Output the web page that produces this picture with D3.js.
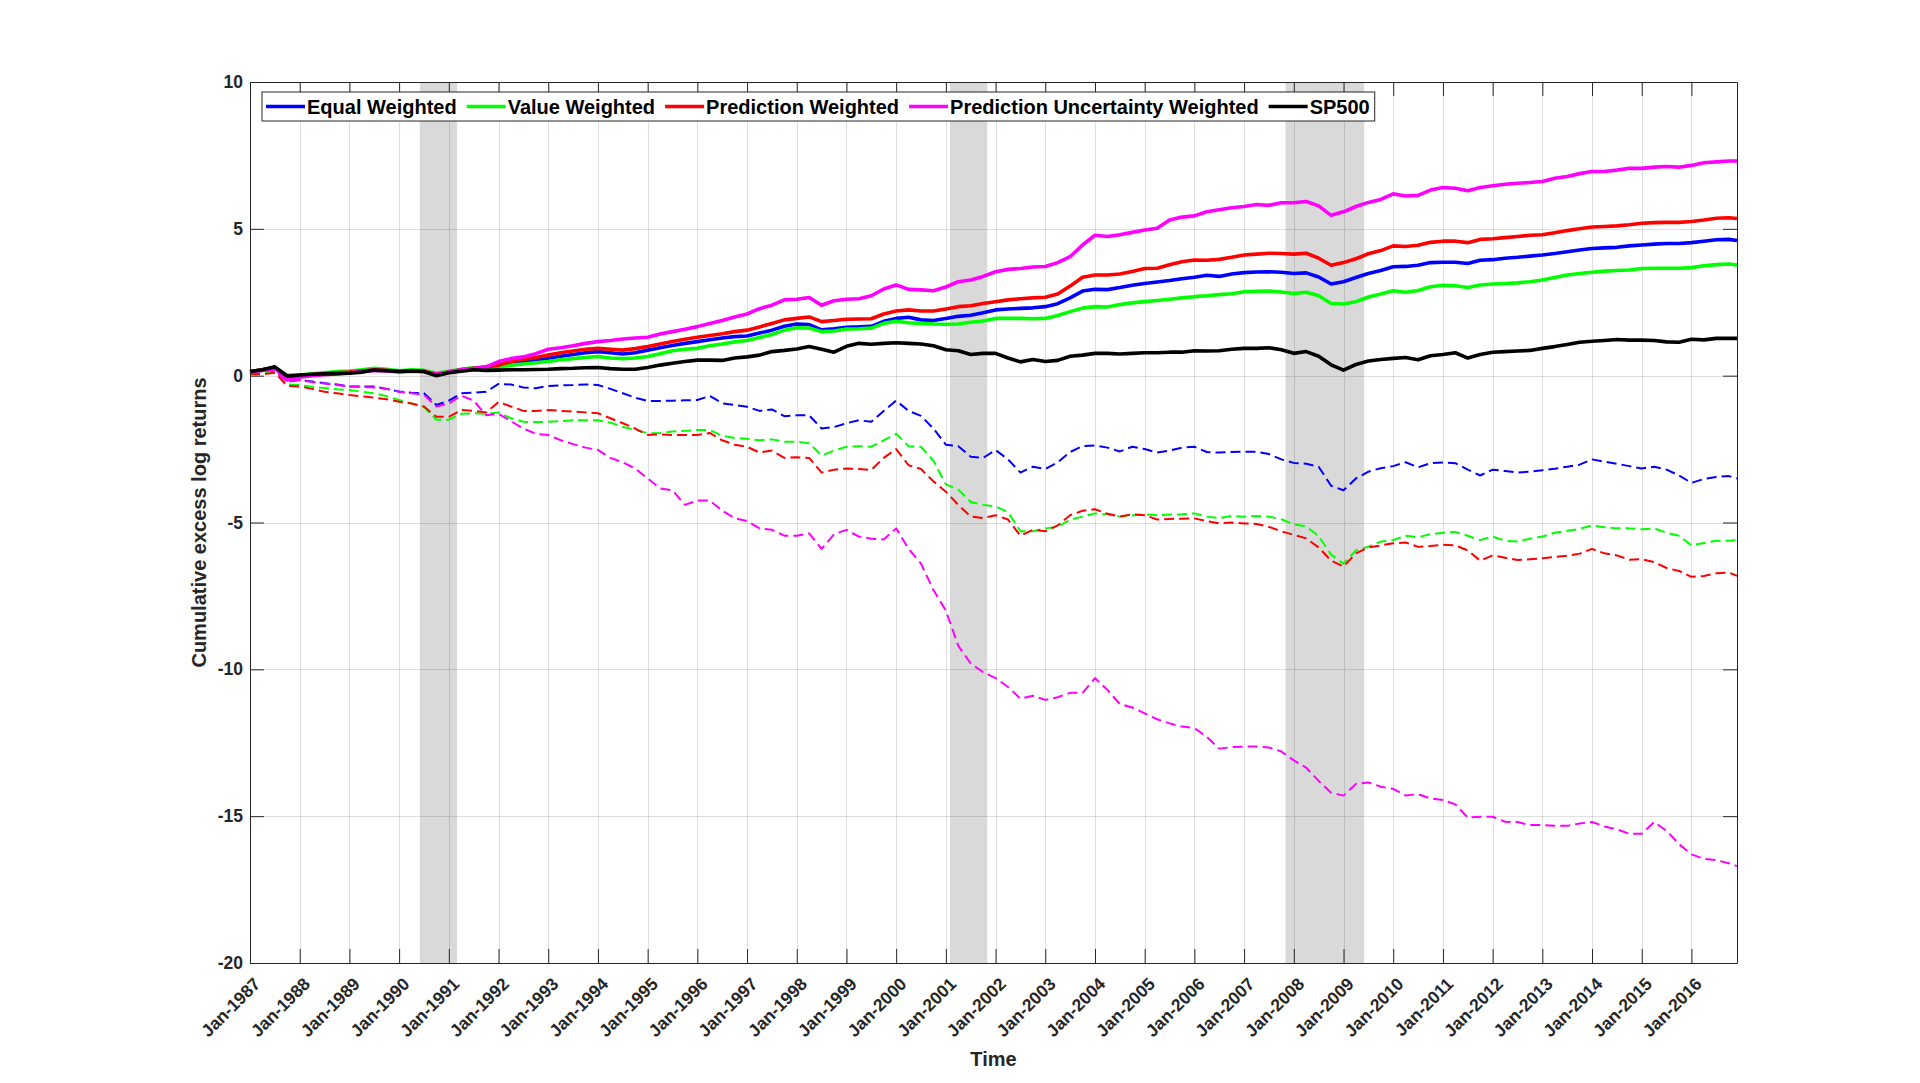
<!DOCTYPE html>
<html>
<head>
<meta charset="utf-8">
<script src="https://cdn.jsdelivr.net/npm/d3@7"></script>
<style>
html,body{margin:0;padding:0;background:#ffffff;}
svg{display:block;font-family:"Liberation Sans",Arial,Helvetica,sans-serif;}
</style>
</head>
<body>
<svg id="chart" width="1920" height="1083"></svg>
<script>
// ---------- DATA ----------
// quarterly observations (Jan, Apr, Jul, Oct) from Jan-1987, last point Dec-2016
const quarterDates = d3.range(0, 120).map(i => 1987 + i / 4).concat([2016 + 11 / 12]);

const xTickYears = d3.range(1987, 2017);
const xTickLabels = xTickYears.map(y => "Jan-" + y);
const yTickValues = [10, 5, 0, -5, -10, -15, -20];
const yTickLabels = ["10", "5", "0", "-5", "-10", "-15", "-20"];

// recession shading [start, end] in decimal years
const recessions = [[1990 + 5/12, 1991 + 2/12], [2001 + 1/12, 2001 + 10/12], [2007 + 10/12, 2009 + 5/12]];

const legendNames = ["Equal Weighted", "Value Weighted", "Prediction Weighted", "Prediction Uncertainty Weighted", "SP500"];
const seriesColors = ["#0000ff", "#00ff00", "#ff0000", "#ff00ff", "#000000"];

// solid lines
const equalWeighted = [
 0.14,0.2,0.28,0.0, 0.0,0.04,0.06,0.1, 0.12,0.16,0.2,0.18, 0.14,0.16,0.15,0.05,
 0.12,0.2,0.25,0.28, 0.3,0.4,0.47,0.54, 0.59,0.66,0.72,0.78, 0.82,0.78,0.74,0.78,
 0.87,0.95,1.03,1.1, 1.16,1.22,1.28,1.33, 1.35,1.45,1.55,1.68, 1.76,1.74,1.56,1.6,
 1.65,1.66,1.68,1.85, 1.95,1.99,1.9,1.88, 1.95,2.02,2.06,2.14, 2.24,2.27,2.29,2.31,
 2.35,2.45,2.65,2.88, 2.94,2.93,3.0,3.08, 3.14,3.19,3.24,3.3, 3.35,3.42,3.38,3.46,
 3.51,3.53,3.54,3.52, 3.48,3.5,3.36,3.12, 3.2,3.34,3.48,3.58, 3.71,3.72,3.76,3.85,
 3.86,3.86,3.82,3.93, 3.95,4.0,4.03,4.07, 4.11,4.16,4.22,4.28, 4.33,4.35,4.37,4.42,
 4.45,4.48,4.5,4.5, 4.53,4.58,4.63,4.64, 4.6];
const valueWeighted = [
 0.14,0.2,0.28,0.0, 0.02,0.06,0.1,0.14, 0.16,0.2,0.25,0.22, 0.17,0.2,0.18,0.08,
 0.15,0.22,0.27,0.28, 0.3,0.36,0.4,0.44, 0.48,0.54,0.58,0.62, 0.65,0.6,0.58,0.6,
 0.65,0.75,0.85,0.9, 0.93,1.02,1.08,1.15, 1.2,1.3,1.4,1.55, 1.63,1.62,1.5,1.52,
 1.59,1.6,1.62,1.78, 1.85,1.8,1.78,1.76, 1.75,1.76,1.82,1.86, 1.95,1.95,1.95,1.94,
 1.95,2.05,2.18,2.3, 2.35,2.34,2.42,2.48, 2.52,2.56,2.6,2.65, 2.69,2.72,2.76,2.79,
 2.86,2.87,2.88,2.85, 2.8,2.84,2.72,2.46, 2.44,2.52,2.68,2.78, 2.89,2.84,2.9,3.03,
 3.08,3.06,3.0,3.09, 3.12,3.14,3.16,3.2, 3.26,3.34,3.43,3.48, 3.52,3.56,3.58,3.6,
 3.65,3.66,3.66,3.66, 3.68,3.74,3.78,3.8, 3.77];
const predictionWeighted = [
 0.14,0.2,0.28,-0.02, 0.0,0.04,0.07,0.1, 0.12,0.16,0.2,0.18, 0.14,0.16,0.15,0.05,
 0.12,0.2,0.25,0.3, 0.36,0.48,0.55,0.62, 0.7,0.78,0.84,0.9, 0.93,0.9,0.87,0.92,
 0.99,1.08,1.16,1.24, 1.31,1.37,1.43,1.5, 1.55,1.66,1.78,1.9, 1.95,2.0,1.84,1.88,
 1.92,1.93,1.94,2.1, 2.2,2.24,2.2,2.2, 2.27,2.35,2.38,2.46, 2.52,2.58,2.62,2.65,
 2.67,2.78,3.05,3.35, 3.43,3.43,3.46,3.55, 3.65,3.66,3.78,3.88, 3.94,3.93,3.96,4.03,
 4.11,4.14,4.17,4.16, 4.14,4.17,4.0,3.76, 3.85,3.98,4.15,4.26, 4.42,4.4,4.44,4.54,
 4.58,4.58,4.53,4.64, 4.66,4.7,4.74,4.78, 4.8,4.87,4.94,5.0, 5.06,5.08,5.1,5.14,
 5.19,5.21,5.22,5.22, 5.25,5.3,5.36,5.38, 5.35];
const uncertaintyWeighted = [
 0.14,0.18,0.26,-0.15, -0.05,0.0,0.03,0.06, 0.1,0.14,0.18,0.16, 0.13,0.15,0.14,0.04,
 0.12,0.2,0.24,0.3, 0.48,0.58,0.64,0.75, 0.9,0.95,1.02,1.1, 1.16,1.2,1.25,1.28,
 1.31,1.42,1.5,1.58, 1.67,1.78,1.88,2.0, 2.1,2.28,2.4,2.58, 2.6,2.66,2.4,2.55,
 2.6,2.62,2.72,2.95, 3.09,2.94,2.92,2.89, 3.02,3.2,3.26,3.38, 3.54,3.62,3.65,3.7,
 3.72,3.85,4.05,4.45, 4.78,4.74,4.8,4.88, 4.96,5.02,5.3,5.4, 5.44,5.58,5.65,5.72,
 5.76,5.83,5.8,5.89, 5.89,5.93,5.78,5.46, 5.58,5.76,5.9,6.0, 6.19,6.12,6.14,6.32,
 6.41,6.38,6.3,6.41, 6.47,6.52,6.55,6.58, 6.61,6.72,6.78,6.88, 6.95,6.95,7.0,7.06,
 7.06,7.1,7.12,7.1, 7.16,7.25,7.28,7.31, 7.31];
const sp500 = [
 0.14,0.2,0.3,-0.02, 0.02,0.05,0.06,0.07, 0.08,0.12,0.19,0.17, 0.14,0.16,0.14,0.0,
 0.1,0.15,0.2,0.18, 0.19,0.2,0.2,0.21, 0.22,0.24,0.25,0.27, 0.28,0.24,0.22,0.22,
 0.28,0.36,0.42,0.48, 0.53,0.53,0.52,0.6, 0.64,0.7,0.82,0.86, 0.91,0.99,0.9,0.8,
 1.0,1.1,1.07,1.1, 1.12,1.1,1.08,1.02, 0.88,0.85,0.72,0.76, 0.76,0.6,0.47,0.55,
 0.48,0.52,0.66,0.7, 0.76,0.76,0.74,0.76, 0.78,0.78,0.8,0.8, 0.85,0.84,0.85,0.9,
 0.93,0.93,0.95,0.88, 0.76,0.82,0.66,0.37, 0.19,0.38,0.5,0.55, 0.59,0.62,0.54,0.68,
 0.72,0.78,0.6,0.72, 0.8,0.82,0.84,0.86, 0.93,0.99,1.06,1.14, 1.17,1.2,1.23,1.21,
 1.21,1.2,1.15,1.14, 1.24,1.22,1.27,1.27, 1.27];

// dashed lines
const equalWeightedDash = [
 0.05,0.15,0.2,-0.2, -0.15,-0.2,-0.26,-0.3, -0.37,-0.37,-0.37,-0.45, -0.54,-0.58,-0.6,-1.0,
 -0.85,-0.6,-0.58,-0.55, -0.28,-0.3,-0.4,-0.43, -0.35,-0.33,-0.32,-0.3, -0.32,-0.45,-0.6,-0.75,
 -0.86,-0.86,-0.85,-0.84, -0.83,-0.69,-0.94,-1.0, -1.06,-1.2,-1.15,-1.38, -1.35,-1.35,-1.8,-1.75,
 -1.62,-1.52,-1.57,-1.2, -0.85,-1.2,-1.37,-1.8, -2.35,-2.4,-2.76,-2.8, -2.53,-2.85,-3.3,-3.1,
 -3.18,-2.95,-2.6,-2.4, -2.38,-2.45,-2.58,-2.42, -2.5,-2.62,-2.55,-2.45, -2.42,-2.6,-2.62,-2.6,
 -2.59,-2.59,-2.67,-2.85, -2.97,-3.0,-3.1,-3.75, -3.9,-3.5,-3.27,-3.15, -3.08,-2.95,-3.12,-2.98,
 -2.96,-2.98,-3.2,-3.4, -3.2,-3.25,-3.3,-3.27, -3.22,-3.17,-3.1,-3.03, -2.85,-2.93,-3.0,-3.08,
 -3.16,-3.1,-3.2,-3.4, -3.65,-3.52,-3.45,-3.42, -3.5];
const valueWeightedDash = [
 0.05,0.1,0.15,-0.3, -0.32,-0.38,-0.42,-0.46, -0.49,-0.55,-0.6,-0.7, -0.83,-0.95,-1.06,-1.5,
 -1.5,-1.3,-1.28,-1.3, -1.25,-1.45,-1.57,-1.58, -1.57,-1.55,-1.52,-1.52, -1.52,-1.6,-1.74,-1.85,
 -1.96,-1.95,-1.9,-1.88, -1.85,-1.85,-2.05,-2.12, -2.15,-2.2,-2.17,-2.25, -2.25,-2.3,-2.72,-2.55,
 -2.42,-2.4,-2.42,-2.2, -1.98,-2.4,-2.42,-2.9, -3.7,-3.88,-4.3,-4.4, -4.45,-4.65,-5.3,-5.3,
 -5.2,-5.15,-4.9,-4.8, -4.69,-4.72,-4.8,-4.76, -4.72,-4.75,-4.73,-4.72, -4.69,-4.8,-4.85,-4.78,
 -4.8,-4.78,-4.8,-4.89, -5.06,-5.14,-5.46,-6.1, -6.4,-5.95,-5.82,-5.65, -5.6,-5.45,-5.5,-5.4,
 -5.35,-5.32,-5.45,-5.6, -5.48,-5.62,-5.65,-5.55, -5.48,-5.35,-5.28,-5.22, -5.1,-5.16,-5.2,-5.2,
 -5.23,-5.2,-5.35,-5.45, -5.78,-5.7,-5.62,-5.62, -5.6];
const predictionWeightedDash = [
 0.05,0.05,0.1,-0.35, -0.37,-0.45,-0.55,-0.6, -0.66,-0.7,-0.75,-0.8, -0.89,-0.95,-1.05,-1.4,
 -1.4,-1.17,-1.2,-1.25, -0.9,-1.05,-1.2,-1.2, -1.17,-1.2,-1.22,-1.25, -1.28,-1.45,-1.62,-1.8,
 -2.02,-2.0,-2.02,-2.02, -2.02,-1.95,-2.2,-2.35, -2.42,-2.62,-2.55,-2.8, -2.78,-2.8,-3.3,-3.2,
 -3.16,-3.18,-3.21,-2.8, -2.5,-3.05,-3.18,-3.6, -3.95,-4.4,-4.8,-4.85, -4.75,-4.9,-5.45,-5.25,
 -5.3,-5.1,-4.75,-4.6, -4.55,-4.7,-4.8,-4.72, -4.75,-4.9,-4.88,-4.87, -4.86,-4.95,-5.03,-5.0,
 -5.03,-5.05,-5.15,-5.3, -5.42,-5.54,-5.85,-6.3, -6.5,-6.05,-5.85,-5.78, -5.71,-5.68,-5.83,-5.8,
 -5.76,-5.78,-5.95,-6.3, -6.12,-6.2,-6.28,-6.25, -6.22,-6.17,-6.13,-6.06, -5.9,-6.05,-6.12,-6.27,
 -6.25,-6.35,-6.55,-6.65, -6.85,-6.82,-6.73,-6.7, -6.82];
const uncertaintyWeightedDash = [
 0.1,0.2,0.15,-0.2, -0.15,-0.22,-0.27,-0.32, -0.37,-0.38,-0.4,-0.45, -0.55,-0.6,-0.65,-1.05,
 -0.95,-0.68,-0.85,-1.35, -1.3,-1.55,-1.8,-1.98, -2.02,-2.2,-2.33,-2.45, -2.53,-2.8,-2.95,-3.16,
 -3.5,-3.84,-3.9,-4.4, -4.25,-4.25,-4.6,-4.85, -4.95,-5.2,-5.25,-5.45, -5.45,-5.37,-5.9,-5.4,
 -5.25,-5.48,-5.55,-5.58, -5.2,-5.9,-6.4,-7.3, -8.0,-9.2,-9.8,-10.1, -10.3,-10.6,-11.0,-10.9,
 -11.04,-10.95,-10.8,-10.8, -10.3,-10.7,-11.18,-11.3, -11.5,-11.7,-11.84,-11.95, -12.0,-12.3,-12.7,-12.65,
 -12.63,-12.63,-12.66,-12.8, -13.1,-13.35,-13.8,-14.2, -14.3,-13.9,-13.85,-14.0, -14.07,-14.3,-14.25,-14.4,
 -14.45,-14.6,-15.05,-15.02, -15.02,-15.19,-15.2,-15.3, -15.3,-15.33,-15.33,-15.25, -15.2,-15.35,-15.45,-15.6,
 -15.6,-15.2,-15.5,-15.95, -16.3,-16.45,-16.5,-16.6, -16.7];

const dashedSeries = [equalWeightedDash, valueWeightedDash, predictionWeightedDash, uncertaintyWeightedDash];
const solidSeries = [equalWeighted, valueWeighted, predictionWeighted, uncertaintyWeighted, sp500];

// ---------- LAYOUT ----------
const plot = {left: 250, top: 82, right: 1737, bottom: 963};
const axisColor = "#262626";
const svg = d3.select("#chart");

const x = d3.scaleLinear().domain([1987, 2016 + 11/12]).range([plot.left, plot.right]);
const y = d3.scaleLinear().domain([-20, 10]).range([plot.bottom, plot.top]);

// recession shading
svg.append("g").selectAll("rect").data(recessions).join("rect")
  .attr("x", d => x(d[0])).attr("y", plot.top)
  .attr("width", d => x(d[1]) - x(d[0])).attr("height", plot.bottom - plot.top)
  .attr("fill", "#d9d9d9");

// grid
const grid = svg.append("g").attr("stroke", axisColor).attr("stroke-opacity", 0.15).attr("stroke-width", 1);
grid.selectAll("line.gx").data(xTickYears).join("line")
  .attr("x1", d => Math.round(x(d)) + 0.5).attr("x2", d => Math.round(x(d)) + 0.5)
  .attr("y1", plot.top).attr("y2", plot.bottom);
grid.selectAll("line.gy").data(yTickValues).join("line")
  .attr("y1", d => Math.round(y(d)) + 0.5).attr("y2", d => Math.round(y(d)) + 0.5)
  .attr("x1", plot.left).attr("x2", plot.right);

// lines
const line = d3.line().x((d, i) => x(quarterDates[i])).y(d => y(d));
const linesG = svg.append("g").attr("fill", "none").attr("stroke-linejoin", "round");
dashedSeries.forEach((s, k) => {
  linesG.append("path").datum(s).attr("d", line)
    .attr("stroke", seriesColors[k]).attr("stroke-width", 2)
    .attr("stroke-dasharray", "10,5");
});
solidSeries.forEach((s, k) => {
  linesG.append("path").datum(s).attr("d", line)
    .attr("stroke", seriesColors[k]).attr("stroke-width", 3.6);
});

// axes (ticks inward)
const tickLen = 14;
const xAxisB = svg.append("g").attr("transform", `translate(0,${plot.bottom})`)
  .call(d3.axisBottom(x).tickValues(xTickYears).tickSizeInner(-tickLen).tickSizeOuter(0)
    .tickFormat((d, i) => xTickLabels[i]));
xAxisB.selectAll("text")
  .attr("text-anchor", "end").attr("dy", null).attr("y", null)
  .attr("transform", "translate(11,22) rotate(-45)")
  .style("font-size", "17.5px").style("font-weight", "bold").attr("fill", axisColor);

svg.append("g").attr("transform", `translate(0,${plot.top})`)
  .call(d3.axisTop(x).tickValues(xTickYears).tickSizeInner(-tickLen).tickSizeOuter(0).tickFormat(""));

const yAxisL = svg.append("g").attr("transform", `translate(${plot.left},0)`)
  .call(d3.axisLeft(y).tickValues(yTickValues).tickSizeInner(-tickLen).tickSizeOuter(0)
    .tickFormat((d, i) => yTickLabels[i]));
yAxisL.selectAll("text").attr("x", -7)
  .style("font-size", "17.5px").style("font-weight", "bold").attr("fill", axisColor);

svg.append("g").attr("transform", `translate(${plot.right},0)`)
  .call(d3.axisRight(y).tickValues(yTickValues).tickSizeInner(-tickLen).tickSizeOuter(0).tickFormat(""));

svg.selectAll(".domain").attr("stroke", axisColor);
svg.selectAll(".tick line").attr("stroke", axisColor);

// axis labels
svg.append("text").attr("x", (plot.left + plot.right) / 2).attr("y", 1066)
  .attr("text-anchor", "middle").attr("fill", axisColor)
  .style("font-size", "20px").style("font-weight", "bold").text("Time");
svg.append("text").attr("transform", `translate(206,${(plot.top + plot.bottom) / 2}) rotate(-90)`)
  .attr("text-anchor", "middle").attr("fill", axisColor)
  .style("font-size", "20px").style("font-weight", "bold").text("Cumulative excess log returns");

// legend
const legend = svg.append("g");
const legBox = legend.append("rect").attr("x", 262).attr("y", 92).attr("height", 29)
  .attr("fill", "#ffffff").attr("stroke", axisColor).attr("stroke-width", 1);
let lx = 266;
const ly = 106.5;
legendNames.forEach((name, k) => {
  legend.append("line").attr("x1", lx).attr("x2", lx + 39).attr("y1", ly).attr("y2", ly)
    .attr("stroke", seriesColors[k]).attr("stroke-width", 3.6);
  const t = legend.append("text").attr("x", lx + 41).attr("y", ly + 7)
    .attr("fill", "#000").style("font-size", "20px").style("font-weight", "bold").text(name);
  const w = t.node().getComputedTextLength();
  lx = lx + 41 + w + (k < legendNames.length - 1 ? 10 : 5);
});
legBox.attr("width", lx - 262);
</script>
</body>
</html>
